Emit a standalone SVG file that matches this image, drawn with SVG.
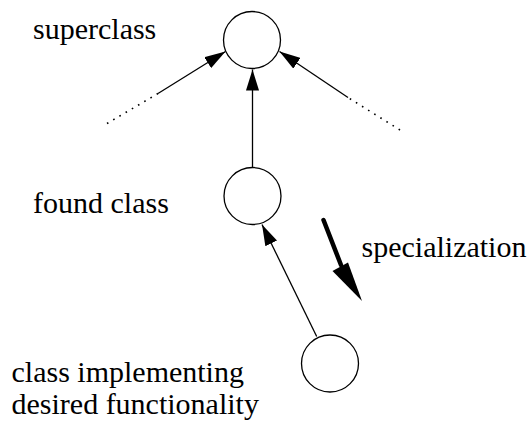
<svg xmlns="http://www.w3.org/2000/svg" width="531" height="423" viewBox="0 0 531 423">
  <style>
    .node { fill: #fff; stroke: #000; stroke-width: 1.3; }
    .label { font-size: 30px; fill: #000; }
    .edge { stroke: #000; stroke-width: 1.3; fill: none; }
    .dots { stroke: #000; stroke-width: 1.6; fill: none; stroke-dasharray: 1.6 5.6; }
  </style>
  <defs>
    <marker id="head" markerUnits="userSpaceOnUse" markerWidth="22" markerHeight="13" refX="21" refY="6.5" orient="auto">
      <path d="M0,0 L21,6.5 L0,13 z" fill="#000"/>
    </marker>
  </defs>

  <g id="connectors">
    <line class="edge" x1="252.5" y1="167.5" x2="252.5" y2="69.5" marker-end="url(#head)"/>
    <line class="edge" x1="316.7" y1="336.5" x2="262" y2="224.5" marker-end="url(#head)"/>
    <line class="dots" x1="107" y1="123.5" x2="158" y2="93.5"/>
    <line class="edge" x1="158" y1="93.5" x2="225.5" y2="51.5" marker-end="url(#head)"/>
    <line class="dots" x1="400" y1="130" x2="348" y2="97.5"/>
    <line class="edge" x1="348" y1="97.5" x2="279.5" y2="51.5" marker-end="url(#head)"/>
    <!-- bold specialization arrow -->
    <line x1="323.5" y1="220" x2="341" y2="265" stroke="#000" stroke-width="4.5" stroke-linecap="round"/>
    <polygon points="362,301 348,262.5 332.5,271" fill="#000"/>
  </g>

  <g id="superclass" font-family="'Liberation Serif', 'DejaVu Serif', serif">
    <circle class="node" cx="252" cy="40" r="28.5"/>
    <text class="label" x="33" y="39">superclass</text>
  </g>

  <g id="found-class" font-family="'Liberation Serif', 'DejaVu Serif', serif">
    <circle class="node" cx="252.5" cy="196" r="28.5"/>
    <text class="label" x="33" y="213">found class</text>
  </g>

  <g id="implementing-class" font-family="'Liberation Serif', 'DejaVu Serif', serif">
    <circle class="node" cx="330" cy="363.5" r="28.5"/>
    <text class="label" x="11.5" y="382">class implementing</text>
    <text class="label" x="11.5" y="414">desired functionality</text>
  </g>

  <g id="specialization" font-family="'Liberation Serif', 'DejaVu Serif', serif">
    <text class="label" x="361.5" y="257">specialization</text>
  </g>
</svg>
